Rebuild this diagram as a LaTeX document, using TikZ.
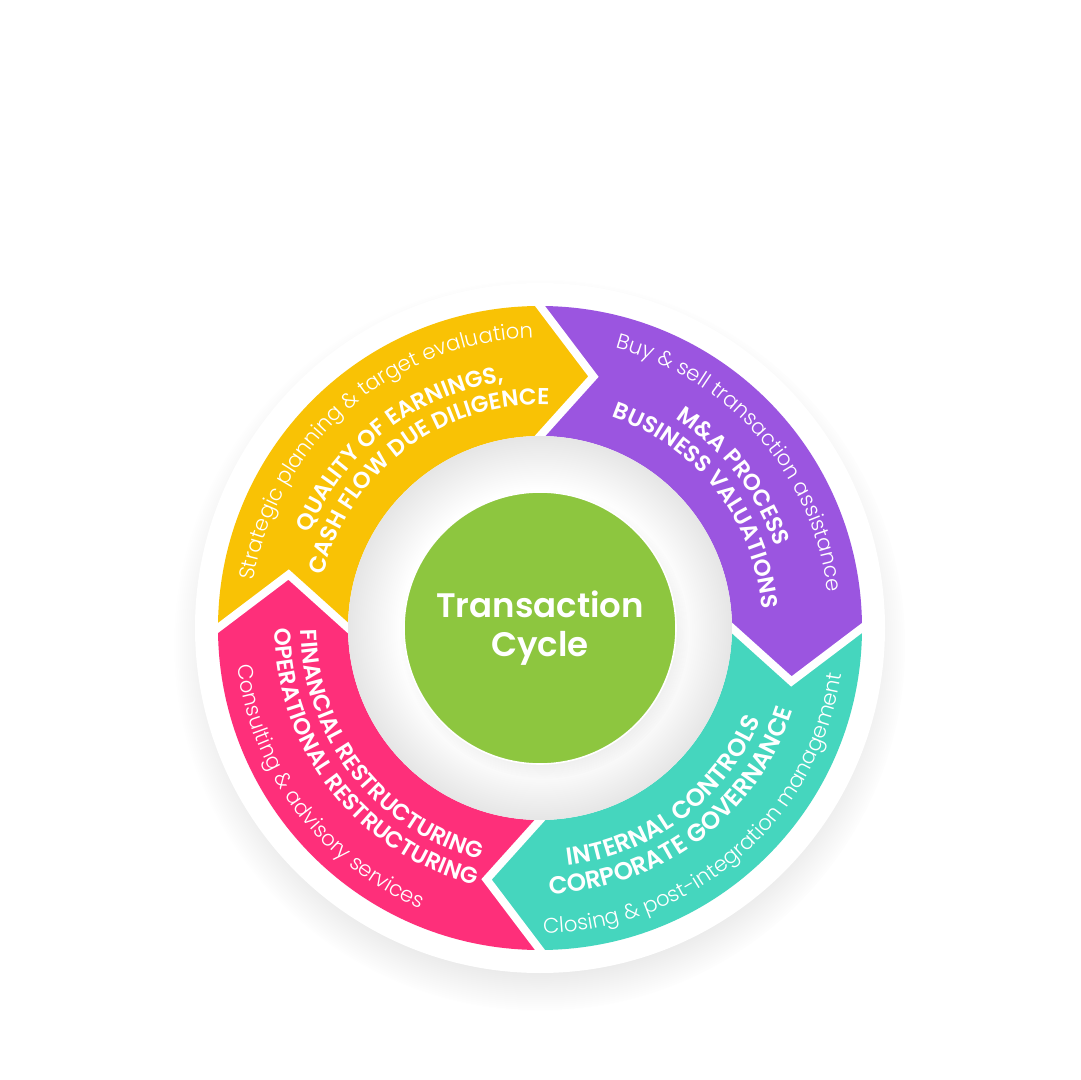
\documentclass[tikz,border=0pt]{standalone}
\usepackage{fontspec}
\setmainfont{Poppins}
\newfontfamily\lightfont{Poppins Light}
\newfontfamily\semifont{Poppins SemiBold}
\usetikzlibrary{calc,decorations.text,shadows,fadings}

\definecolor{qoeyellow}{HTML}{F9C205}
\definecolor{maviolet}{HTML}{9B55E0}
\definecolor{ictteal}{HTML}{45D6BE}
\definecolor{frpink}{HTML}{FE2F7A}
\definecolor{cycgreen}{HTML}{8DC63F}

\pgfdeclareradialshading{ringglow}{\pgfpointorigin}{color(0bp)=(white); color(18bp)=(white); color(25bp)=(black!10); color(50bp)=(black!10)}

\begin{document}
\begin{tikzpicture}[
  x=0.5pt, y=0.5pt,
  gap/.style={draw=white, line width=4pt, line join=miter},
  lighttext/.style={decorate, decoration={text along path, text align=center, text color=white,
      text={|\lightfont\fontsize{10.6}{12}\selectfont|#1}}},
  boldtext/.style={decorate, decoration={text along path, text align=center, text color=white,
      text={|\semifont\fontsize{11.5}{13}\selectfont|#1}}},
  widetext/.style={decorate, decoration={text along path, text align=center, text color=white,
      text={|\semifont\fontsize{12.3}{14}\selectfont|#1}}}
]

\fill[white] (-540,-452) rectangle (540,628);
\useasboundingbox (-540,-452) rectangle (540,628);

\fill[white, circular drop shadow={shadow xshift=0pt, shadow yshift=-8pt, shadow scale=1.06, opacity=0.22}] (0,0) circle[radius=345];

\foreach \a/\col in {180/qoeyellow, 90/maviolet, 0/ictteal, 270/frpink} {
  \fill[\col] (\a:322) arc[start angle=\a, end angle=\a-90, radius=322]
    -- ({\a-102}:257) -- ({\a-90}:192) arc[start angle=\a-90, end angle=\a, radius=192]
    -- ({\a-12}:257) -- cycle;
}
\foreach \b [count=\i] in {90, 0, 270, 180} {
  \coordinate (tip\i) at ({\b-12}:257);
  \coordinate (out\i) at (\b:322);
  \coordinate (in\i) at (\b:192);
  \draw[gap] ($(tip\i)!1.2!(out\i)$) -- (tip\i) -- ($(tip\i)!1.2!(in\i)$);
}

\shade[shading=ringglow] (0,0) circle[radius=192];
\node[circle, fill=cycgreen, draw=white, line width=0.8pt, minimum size=136pt, inner sep=0pt,
  circular drop shadow={shadow xshift=2pt, shadow yshift=-3pt, shadow scale=1.06, opacity=0.18},
  text=white, align=center, font=\semifont\fontsize{17}{19.5}\selectfont] (cycle) at (0,0) {Transaction\\Cycle};

\path[lighttext={Strategic planning {\&} target evaluation}] (201:290) arc[start angle=201, end angle=61, radius=290];
\path[boldtext={QUALITY OF EARNINGS,}] (198:249) arc[start angle=198, end angle=58, radius=249];
\path[boldtext={CASH FLOW DUE DILIGENCE}] (197:223) arc[start angle=197, end angle=57, radius=223];

\path[lighttext={Buy {\&} sell transaction assistance}] (111:290) arc[start angle=111, end angle=-29, radius=290];
\path[boldtext={M{\&}A PROCESS}] (108:249) arc[start angle=108, end angle=-32, radius=249];
\path[boldtext={BUSINESS VALUATIONS}] (108:223) arc[start angle=108, end angle=-32, radius=223];

\path[lighttext={Consulting {\&} advisory services}] (147:305) arc[start angle=147, end angle=287, radius=305];
\path[boldtext={FINANCIAL RESTRUCTURING}] (148:239) arc[start angle=148, end angle=288, radius=239];
\path[boldtext={OPERATIONAL RESTRUCTURING}] (148:265) arc[start angle=148, end angle=288, radius=265];

\path[lighttext={Closing {\&} post-integration management}] (241:305) arc[start angle=241, end angle=381, radius=305];
\path[widetext={INTERNAL CONTROLS}] (237:239) arc[start angle=237, end angle=377, radius=239];
\path[widetext={CORPORATE GOVERNANCE}] (237:266) arc[start angle=237, end angle=377, radius=266];

\end{tikzpicture}
\end{document}
